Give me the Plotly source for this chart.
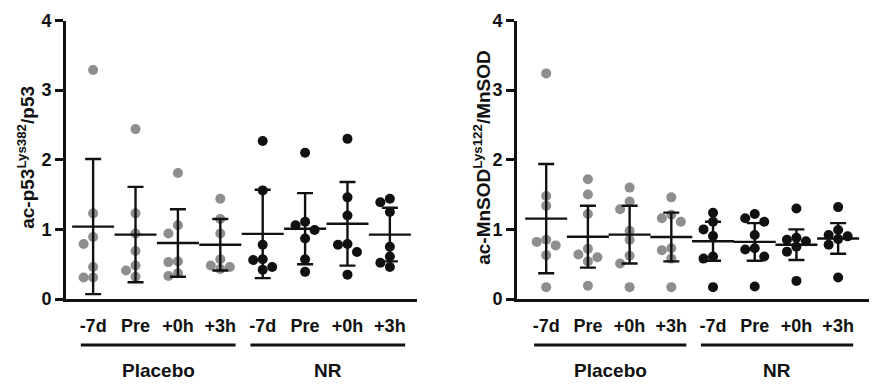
import math
import plotly.graph_objects as go

# ---------------- data ----------------
categories = ["-7d", "Pre", "+0h", "+3h", "-7d", "Pre", "+0h", "+3h"]
groups = ["Placebo", "NR"]

# panel A: ac-p53(Lys382)/p53
p53_values = [
    [3.29, 1.23, 0.89, 0.79, 0.46, 0.31, 0.31],
    [2.44, 1.23, 0.94, 0.69, 0.48, 0.41, 0.32],
    [1.81, 1.06, 0.94, 0.54, 0.53, 0.37, 0.33],
    [1.44, 1.15, 0.94, 0.57, 0.48, 0.46, 0.43],
    [2.27, 1.56, 0.78, 0.57, 0.56, 0.46, 0.42],
    [2.10, 1.11, 1.06, 0.99, 0.87, 0.57, 0.39],
    [2.30, 1.46, 1.20, 0.79, 0.78, 0.675, 0.35],
    [1.44, 1.39, 1.25, 0.75, 0.61, 0.52, 0.46],
]
p53_mean = [1.04, 0.925, 0.805, 0.78, 0.935, 1.01, 1.08, 0.925]
p53_sd = [0.97, 0.685, 0.485, 0.37, 0.635, 0.51, 0.60, 0.385]

# panel B: ac-MnSOD(Lys122)/MnSOD
sod_values = [
    [3.24, 1.48, 1.34, 0.85, 0.82, 0.77, 0.63, 0.17],
    [1.72, 1.50, 1.22, 0.72, 0.64, 0.60, 0.54, 0.19],
    [1.60, 1.40, 1.29, 0.98, 0.85, 0.62, 0.51, 0.17],
    [1.46, 1.21, 1.16, 1.11, 0.73, 0.70, 0.58, 0.17],
    [1.24, 1.11, 1.00, 0.905, 0.61, 0.58, 0.17],
    [1.22, 1.16, 1.11, 0.92, 0.73, 0.71, 0.61, 0.18],
    [1.30, 0.88, 0.85, 0.83, 0.75, 0.68, 0.26],
    [1.32, 0.99, 0.92, 0.90, 0.86, 0.78, 0.31],
]
sod_mean = [1.155, 0.895, 0.925, 0.89, 0.83, 0.82, 0.78, 0.87]
sod_sd = [0.785, 0.445, 0.415, 0.35, 0.28, 0.27, 0.22, 0.22]

y_ticks = [0, 1, 2, 3, 4]

# ---------------- style ----------------
FONT = "Liberation Sans, Arial, sans-serif"
GRAY = "#8e8e8e"
BLACK = "#111111"
W, H = 882, 388
DOT = 10


def swarm(vals, ppu_x, ppu_y, d=9.5):
    """Deterministic beeswarm offsets (in axis units)."""
    placed, offs = [], []
    for v in vals:
        dx = 0.0
        for k in [0, -1, 1, -2, 2, -3, 3]:
            dx = k * d
            ok = all(math.hypot(dx - px, (v - pv) * ppu_y) >= d * 0.92 for px, pv in placed)
            if ok:
                break
        placed.append((dx, v))
        offs.append(dx / ppu_x)
    return offs


fig = go.Figure()

panels = [
    dict(values=p53_values, mean=p53_mean, sd=p53_sd, xa="x", ya="y",
         dom=[66 / W, 417 / W], rng=[-0.64, 7.64],
         title="<b>ac-p53<sup>Lys382</sup>/p53</b>", tx=26 / W),
    dict(values=sod_values, mean=sod_mean, sd=sod_sd, xa="x2", ya="y2",
         dom=[517 / W, 869 / W], rng=[-0.70, 7.74],
         title="<b>ac-MnSOD<sup>Lys122</sup>/MnSOD</b>", tx=482 / W),
]

ydom = [(H - 299) / H, (H - 20.5) / H]
ppu_y = (299 - 20.5) / 4.0

for p in panels:
    ppu_x = (p["dom"][1] - p["dom"][0]) * W / (p["rng"][1] - p["rng"][0])
    for i, vals in enumerate(p["values"]):
        offs = swarm(vals, ppu_x, ppu_y)
        fig.add_trace(go.Scatter(
            x=[i + o for o in offs], y=vals, mode="markers",
            marker=dict(size=DOT, color=GRAY if i < 4 else BLACK, line=dict(width=0)),
            xaxis=p["xa"], yaxis=p["ya"], showlegend=False, hoverinfo="y",
        ))
    fig.add_trace(go.Scatter(
        x=list(range(len(categories))), y=p["mean"], mode="markers",
        marker=dict(symbol="line-ew", size=30, color=BLACK,
                    line=dict(width=2.4, color=BLACK)),
        error_y=dict(type="data", array=p["sd"], visible=True,
                     color=BLACK, thickness=2.4, width=8),
        xaxis=p["xa"], yaxis=p["ya"], showlegend=False, hoverinfo="skip",
    ))

axis_common_x = dict(
    showline=True, linewidth=3, linecolor=BLACK, showgrid=False, zeroline=False,
    tickmode="array", tickvals=list(range(len(categories))), ticktext=categories,
    ticks="", ticklabelstandoff=8, automargin=False,
    tickfont=dict(family=FONT, size=18, color=BLACK, weight="bold"),
    fixedrange=True,
)
axis_common_y = dict(
    range=[0, 4], showline=True, linewidth=3, linecolor=BLACK, showgrid=False,
    zeroline=False, tickmode="array", tickvals=y_ticks,
    ticktext=[str(t) for t in y_ticks], automargin=False,
    ticks="outside", ticklen=8, tickwidth=2.5, tickcolor=BLACK,
    tickfont=dict(family=FONT, size=18, color=BLACK, weight="bold"),
    fixedrange=True,
)

fig.update_layout(
    width=W, height=H, margin=dict(l=0, r=0, t=0, b=0, pad=0, autoexpand=False),
    paper_bgcolor="white", plot_bgcolor="white",
    xaxis=dict(domain=panels[0]["dom"], range=panels[0]["rng"], anchor="y", **axis_common_x),
    yaxis=dict(domain=ydom, anchor="x", **axis_common_y),
    xaxis2=dict(domain=panels[1]["dom"], range=panels[1]["rng"], anchor="y2", **axis_common_x),
    yaxis2=dict(domain=ydom, anchor="x2", **axis_common_y),
)

# group brackets and labels
line_y = (H - 345) / H
label_y = (H - 370) / H
for p in panels:
    for g, name in enumerate(groups):
        x0 = g * 4 - 0.29
        x1 = g * 4 + 3 + 0.36
        fig.add_shape(type="line", xref=p["xa"], yref="paper",
                      x0=x0, x1=x1, y0=line_y, y1=line_y,
                      line=dict(color=BLACK, width=3))
        fig.add_annotation(x=(x0 + x1) / 2, y=label_y, xref=p["xa"], yref="paper",
                           text="<b>%s</b>" % name, showarrow=False,
                           font=dict(family=FONT, size=19, color=BLACK),
                           xanchor="center", yanchor="middle")
    fig.add_annotation(x=p["tx"], y=(ydom[0] + ydom[1]) / 2 + 0.005, xref="paper", yref="paper",
                       text=p["title"], textangle=-90, showarrow=False,
                       font=dict(family=FONT, size=19, color=BLACK),
                       xanchor="center", yanchor="middle")

fig.write_html(
    "out.html",
    config={"displayModeBar": False},
    post_script="document.body.style.margin='0';document.body.style.padding='0';",
)
